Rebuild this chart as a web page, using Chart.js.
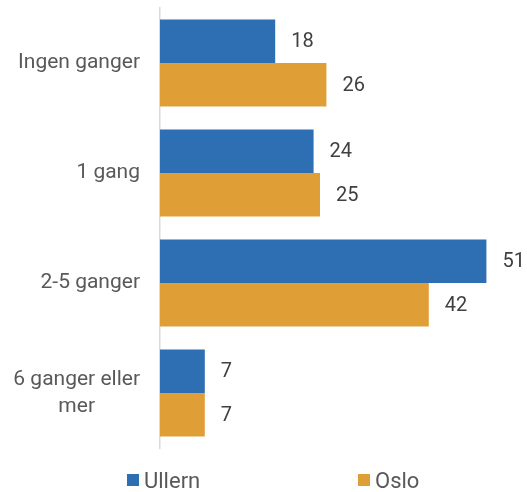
<!DOCTYPE html>
<html>
<head>
<meta charset="utf-8">
<script src="https://cdn.jsdelivr.net/npm/chart.js@4/dist/chart.umd.min.js"></script>
<style>
    html, body { margin: 0; padding: 0; background: #fff; }
    #wrap { position: relative; width: 527px; height: 492px; }
    #legend { position: absolute; left: 0; top: 469px; width: 527px; height: 22px;
              font: 22px Roboto, sans-serif; color: #595959; }
    .item { position: absolute; top: 0; display: flex; align-items: center; height: 22px; }
    .box { width: 12px; height: 12px; margin-right: 5px; }
</style>
</head>
<body>
<div id="wrap">
    <canvas id="chart" width="527" height="492"></canvas>
    <div id="legend"></div>
</div>
<script>
const categories = ["Ingen ganger", "1 gang", "2-5 ganger", ["6 ganger eller", "mer"]];
const ullern = [18, 24, 51, 7];
const oslo = [26, 25, 42, 7];
const seriesNames = ["Ullern", "Oslo"];
const colors = ["#2e6fb4", "#e09f36"];

const FONT = "Roboto, sans-serif";

// value labels at the end of each bar
const valueLabels = {
    id: "valueLabels",
    afterDatasetsDraw(chart) {
        const ctx = chart.ctx;
        ctx.save();
        ctx.font = "20px " + FONT;
        ctx.fillStyle = "#404040";
        ctx.textAlign = "left";
        ctx.textBaseline = "middle";
        chart.data.datasets.forEach((ds, d) => {
            chart.getDatasetMeta(d).data.forEach((bar, i) => {
                ctx.fillText(String(ds.data[i]), bar.x + 16, bar.y + 1);
            });
        });
        ctx.restore();
    },
};

// category labels: block right-aligned, lines centred inside the block
const categoryLabels = {
    id: "categoryLabels",
    afterDraw(chart) {
        const ctx = chart.ctx;
        const scale = chart.scales.y;
        ctx.save();
        ctx.font = "21px " + FONT;
        ctx.fillStyle = "#595959";
        ctx.textAlign = "center";
        ctx.textBaseline = "middle";
        const lineHeight = 27;
        categories.forEach((label, i) => {
            const lines = Array.isArray(label) ? label : [label];
            const widest = Math.max(...lines.map((l) => ctx.measureText(l).width));
            const cx = scale.right - 20 - widest / 2;
            const cy = scale.getPixelForTick(i);
            lines.forEach((line, j) => {
                ctx.fillText(line, cx, cy + (j - (lines.length - 1) / 2) * lineHeight);
            });
        });
        ctx.restore();
    },
};

const chart = new Chart(document.getElementById("chart"), {
    type: "bar",
    data: {
        labels: categories,
        datasets: [
            {
                label: seriesNames[0],
                data: ullern,
                backgroundColor: colors[0],
            },
            {
                label: seriesNames[1],
                data: oslo,
                backgroundColor: colors[1],
            },
        ],
    },
    options: {
        responsive: false,
        animation: false,
        indexAxis: "y",
        layout: {
            padding: { top: 8, bottom: 44, left: 0, right: 15 },
        },
        datasets: {
            bar: {
                categoryPercentage: 0.79,
                barPercentage: 1.0,
            },
        },
        plugins: {
            legend: { display: false },
            tooltip: { enabled: false },
        },
        scales: {
            x: {
                display: false,
                min: 0,
                max: 55,
            },
            y: {
                afterFit: (scale) => { scale.width = 160; },
                grid: { display: false },
                border: { display: true, color: "#d9d9d9", width: 1.5 },
                ticks: { display: false },
            },
        },
    },
    plugins: [valueLabels, categoryLabels],
});

// legend as html, built from the datasets
const legendEl = document.getElementById("legend");
const legendLeft = [127, 358];
chart.data.datasets.forEach((ds, i) => {
    const item = document.createElement("div");
    item.className = "item";
    item.style.left = legendLeft[i] + "px";
    const box = document.createElement("span");
    box.className = "box";
    box.style.background = ds.backgroundColor;
    const text = document.createElement("span");
    text.textContent = ds.label;
    item.appendChild(box);
    item.appendChild(text);
    legendEl.appendChild(item);
});
</script>
</body>
</html>
